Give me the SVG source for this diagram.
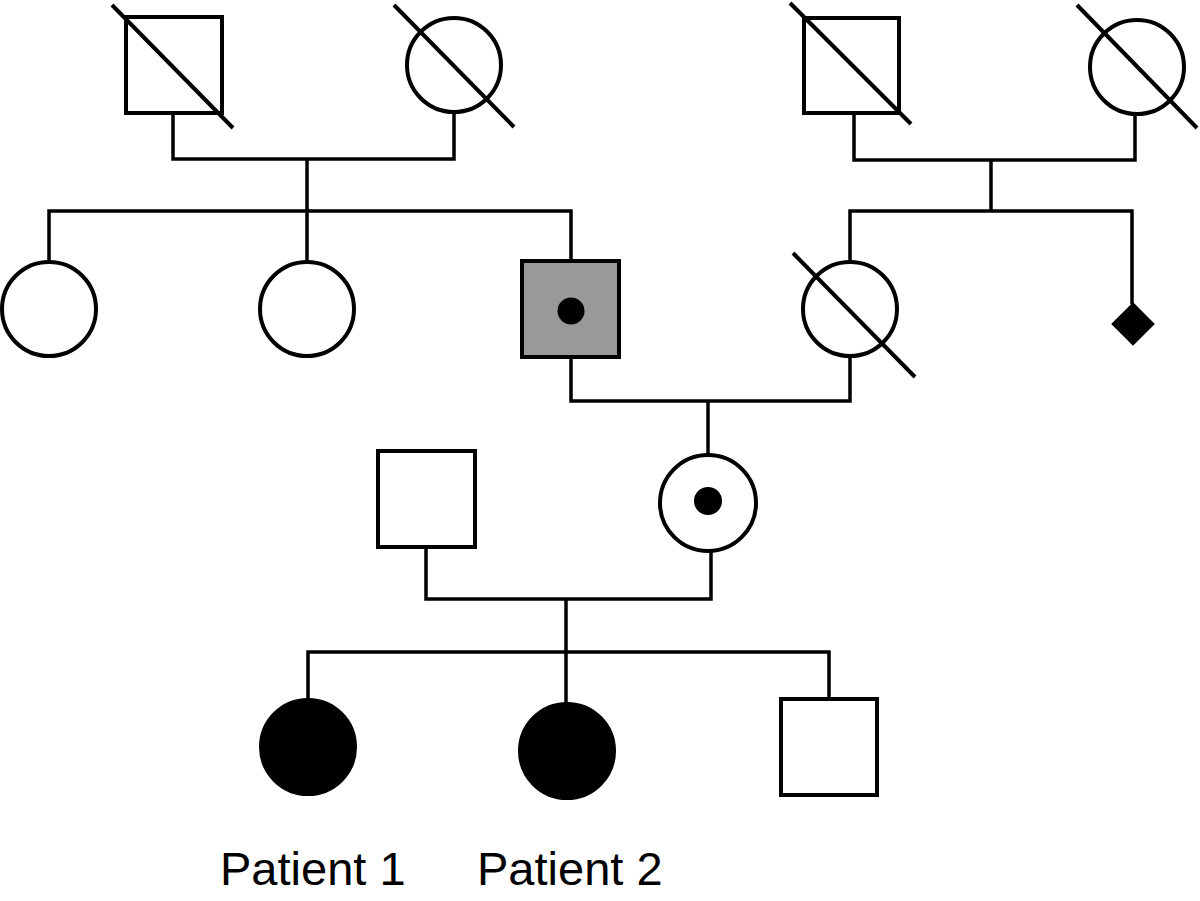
<svg xmlns="http://www.w3.org/2000/svg" width="1200" height="901" viewBox="0 0 1200 901">
<style>
.s{fill:#fff;stroke:#000;stroke-width:4}
.aff{fill:#000;stroke:#000;stroke-width:4}
.car{fill:#999;stroke:#000;stroke-width:4}
.d{stroke:#000;stroke-width:4;fill:none}
.c{fill:none;stroke:#000;stroke-width:3.5;stroke-linejoin:miter}
.dot{fill:#000}
.lbl{font-family:"Liberation Sans",Arial,sans-serif;font-size:47px;fill:#000}
</style>
<rect width="1200" height="901" fill="#fff"/>
<g id="connectors">
<polyline class="c" points="173,113 173,159 454,159 454,112"/>
<line class="c" x1="307" y1="159" x2="307" y2="211"/>
<polyline class="c" points="49,262 49,211 571,211 571,261"/>
<line class="c" x1="307" y1="211" x2="307" y2="262"/>
<polyline class="c" points="854,113 854,160 1135,160 1135,114"/>
<line class="c" x1="991" y1="160" x2="991" y2="211"/>
<polyline class="c" points="850,262 850,211 1132,211 1132,304"/>
<polyline class="c" points="571,357 571,401 850,401 850,356"/>
<line class="c" x1="708" y1="401" x2="708" y2="455"/>
<polyline class="c" points="426,547 426,599 711,599 711,551"/>
<line class="c" x1="566" y1="599" x2="566" y2="652"/>
<polyline class="c" points="308,699 308,652 829,652 829,699"/>
<line class="c" x1="566" y1="652" x2="566" y2="703"/>
</g>
<g id="gp1">
<rect class="s" x="126" y="17" width="96" height="96"/>
<line class="d" x1="112" y1="5" x2="233" y2="128"/>
</g>
<g id="gp2">
<circle class="s" cx="454" cy="65" r="47"/>
<line class="d" x1="394" y1="5" x2="514" y2="127"/>
</g>
<g id="gp3">
<rect class="s" x="804" y="18" width="95" height="95"/>
<line class="d" x1="790" y1="3" x2="911" y2="124"/>
</g>
<g id="gp4">
<circle class="s" cx="1137" cy="67" r="47"/>
<line class="d" x1="1077" y1="5" x2="1197" y2="128"/>
</g>
<g id="aunt1"><circle class="s" cx="49" cy="309" r="47"/></g>
<g id="aunt2"><circle class="s" cx="307" cy="309" r="47"/></g>
<g id="grandfather">
<rect class="car" x="522" y="261" width="97" height="96"/>
<circle class="dot" cx="571" cy="311" r="13.5"/>
</g>
<g id="grandmother">
<circle class="s" cx="850" cy="309" r="47"/>
<line class="d" x1="793" y1="253" x2="915" y2="377"/>
</g>
<g id="sibling">
<polygon class="aff" points="1133,305 1152,324 1133,343 1114,324"/>
</g>
<g id="father"><rect class="s" x="378" y="451" width="97" height="96"/></g>
<g id="mother">
<circle class="s" cx="708" cy="503" r="48"/>
<circle class="dot" cx="708" cy="501" r="14"/>
</g>
<g id="patient1">
<ellipse class="aff" cx="308" cy="747" rx="47" ry="47"/>
<text class="lbl" x="220" y="885">Patient 1</text>
</g>
<g id="patient2">
<ellipse class="aff" cx="567" cy="751" rx="47" ry="47"/>
<text class="lbl" x="477" y="885">Patient 2</text>
</g>
<g id="brother"><rect class="s" x="781" y="699" width="96" height="96"/></g>
</svg>
